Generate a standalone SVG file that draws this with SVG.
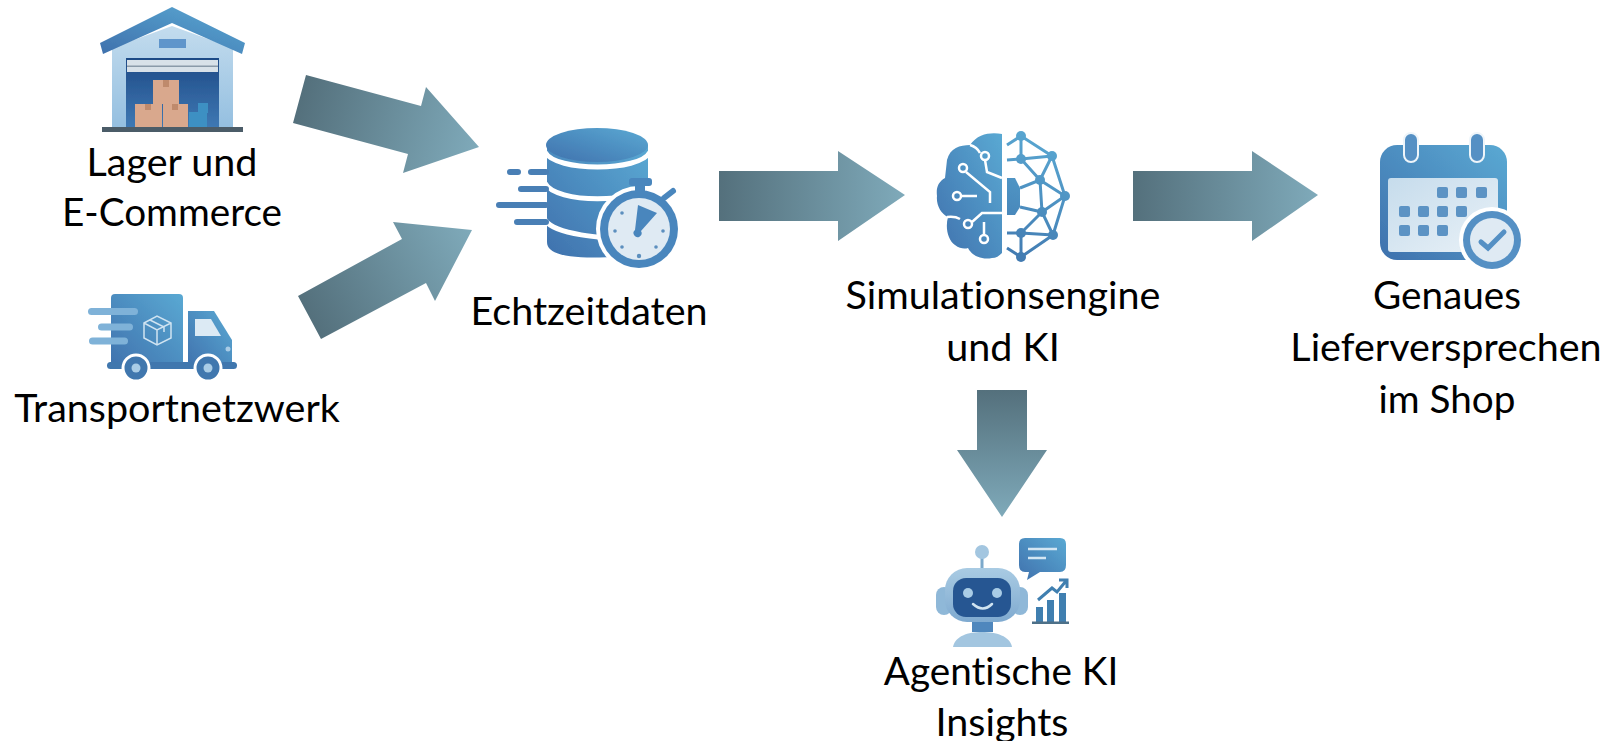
<svg xmlns="http://www.w3.org/2000/svg" width="1610" height="741" viewBox="0 0 1610 741">
<defs>
<linearGradient id="a1" gradientUnits="userSpaceOnUse" x1="300" y1="99" x2="479" y2="147"><stop offset="0" stop-color="#54707c"/><stop offset="1" stop-color="#7faaba"/></linearGradient>
<linearGradient id="a2" gradientUnits="userSpaceOnUse" x1="310" y1="318" x2="472" y2="230"><stop offset="0" stop-color="#54707c"/><stop offset="1" stop-color="#7faaba"/></linearGradient>
<linearGradient id="ah" x1="0" y1="0" x2="1" y2="0"><stop offset="0" stop-color="#54707c"/><stop offset="1" stop-color="#7faaba"/></linearGradient>
<linearGradient id="av" x1="0" y1="0" x2="0" y2="1"><stop offset="0" stop-color="#54707c"/><stop offset="1" stop-color="#7faaba"/></linearGradient>
<linearGradient id="b" x1="0" y1="1" x2="1" y2="0"><stop offset="0" stop-color="#3f71ad"/><stop offset="1" stop-color="#5aa9d3"/></linearGradient>
<linearGradient id="l" x1="0" y1="0" x2="1" y2="1"><stop offset="0" stop-color="#c6dcec"/><stop offset="1" stop-color="#e9f1f7"/></linearGradient>
<linearGradient id="wall" x1="0" y1="0" x2="0" y2="1"><stop offset="0" stop-color="#c3dcee"/><stop offset="1" stop-color="#94bfe0"/></linearGradient>
<linearGradient id="door" x1="0" y1="0" x2="0" y2="1"><stop offset="0" stop-color="#1e4a86"/><stop offset="1" stop-color="#3f79b4"/></linearGradient>
<linearGradient id="net" gradientUnits="userSpaceOnUse" x1="1010" y1="260" x2="1060" y2="135"><stop offset="0" stop-color="#4179b0"/><stop offset="1" stop-color="#5aa9d3"/></linearGradient>
<linearGradient id="hd" x1="0" y1="0" x2="0" y2="1"><stop offset="0" stop-color="#a9cbe3"/><stop offset="1" stop-color="#7faad0"/></linearGradient>
<filter id="soft" x="-5%" y="-5%" width="110%" height="110%"><feGaussianBlur stdDeviation="0.55"/></filter>
</defs>
<style>
text{font-family:"Lato","Carlito","Liberation Sans",sans-serif;font-size:39.5px;fill:#000;text-anchor:middle;font-variant-ligatures:none}
.icon{filter:url(#soft)}
.s{font-size:38.7px}
</style>
<rect width="1610" height="741" fill="#fff"/>
<g id="connectors">
<path fill="url(#a1)" d="M306 75 L421 106 L426 87 L479 147 L403 173 L408 154 L293 123Z"/>
<path fill="url(#a2)" d="M298 296 L402 239 L393 222 L472 230 L435 301 L426 283 L321 339Z"/>
<path fill="url(#ah)" d="M719 171 H838 V151 L905 195 L838 241 V221 H719Z"/>
<path fill="url(#ah)" d="M1133 171 H1252 V151 L1318 195 L1252 241 V221 H1133Z"/>
<path fill="url(#av)" d="M977 390 H1027 V450 H1047 L1002 517 L957 450 H977Z"/>
</g>
<g id="lager">
<g class="icon">
<path fill="url(#wall)" d="M112 48 L172 26 L233 48 V128 H112Z"/>
<path fill="url(#b)" d="M100 43 L172 7 L245 43 L242 54 L172 23 L103 54Z"/>
<rect x="159" y="39" width="27" height="9" fill="#5f95cb"/>
<rect x="126" y="58" width="93" height="70" fill="url(#door)"/>
<rect x="127" y="60" width="91" height="12" fill="#d8e1e8"/>
<rect x="127" y="65.500" width="91" height="1.500" fill="#8a9aa8"/>
<rect x="153" y="80" width="26" height="24" fill="#d9a88d"/>
<rect x="135" y="104" width="27" height="24" fill="#d9a88d"/>
<rect x="163" y="104" width="25" height="24" fill="#d9a88d"/>
<rect x="163" y="80" width="6" height="7" fill="#bf8a6c"/><rect x="145" y="104" width="6" height="6" fill="#bf8a6c"/><rect x="172" y="104" width="6" height="6" fill="#bf8a6c"/>
<rect x="189" y="112" width="18" height="15" fill="#3d90c3"/>
<rect x="198" y="103" width="10" height="10" fill="#3d90c3"/>
<rect x="102" y="127" width="141" height="5" fill="#4c5b68"/>
</g>
<text x="172" y="176">Lager und</text>
<text class="s" x="172" y="226">E-Commerce</text>
</g>
<g id="transport">
<g class="icon">
<rect x="111" y="294" width="72" height="75" rx="4" fill="url(#b)"/>
<path fill="url(#b)" d="M188 311 H214 L232 340 V369 H188Z"/>
<path fill="#dceaf4" d="M195 319 H211 L221 336 H195Z"/>
<circle cx="228" cy="349" r="2.500" fill="#a9cce6"/>
<rect x="107" y="362" width="130" height="7" rx="3.500" fill="#3f77ae"/>
<rect x="88" y="308" width="50" height="7" rx="3.500" fill="#7fb2d8"/>
<rect x="98" y="323.500" width="35" height="7" rx="3.500" fill="#7fb2d8"/>
<rect x="89" y="337.500" width="39" height="7" rx="3.500" fill="#7fb2d8"/>
<path fill="none" stroke="#cfe3f1" stroke-width="1.500" d="M144 323 L157 316 L171 323 V338 L157 345 L144 338Z M144 323 L157 330 L171 323 M157 330 V345 M150 320 L164 327 V332"/>
<circle cx="136" cy="368" r="13" fill="#3f77ae" stroke="#fff" stroke-width="3"/><circle cx="136" cy="368" r="4.500" fill="#a9cce6"/>
<circle cx="208" cy="368" r="13" fill="#3f77ae" stroke="#fff" stroke-width="3"/><circle cx="208" cy="368" r="4.500" fill="#a9cce6"/>
</g>
<text x="177" y="422">Transportnetzwerk</text>
</g>
<g id="echtzeit">
<g class="icon">
<path fill="url(#b)" d="M547 145 V242 C547 262 600 258 648 255 V145Z"/>
<ellipse cx="597" cy="145" rx="51" ry="17" fill="url(#b)"/>
<path fill="none" stroke="#fff" stroke-width="5" d="M545 152 C555 172 640 172 650 152 M545 183 C555 204 640 204 650 183 M545 220 C555 235 600 238 640 240"/>
<g stroke="#4a7fb5" stroke-width="6" stroke-linecap="round"><path d="M510 172 H518 M531 172 H546 M521 189 H546 M499 205 H546 M517 222 H546"/></g>
<circle cx="639" cy="229" r="43" fill="#fff"/>
<circle cx="639" cy="229" r="39" fill="#4a86bd"/>
<circle cx="639" cy="229" r="31" fill="#dfeaf3"/>
<rect x="629" y="178" width="23" height="8" rx="3" fill="#4a86bd"/><rect x="635" y="185" width="10" height="11" fill="#4a86bd"/>
<path d="M664 198 L673 191" stroke="#4a86bd" stroke-width="6" stroke-linecap="round"/>
<path fill="#4a86bd" d="M638 205 L657 213 L641 231 A4 4 0 1 1 635 230Z"/>
<g fill="#5c8fbe"><circle cx="622" cy="213" r="1.800"/><circle cx="615" cy="231" r="1.800"/><circle cx="622" cy="247" r="1.800"/><circle cx="639" cy="256" r="2.200"/><circle cx="656" cy="247" r="1.800"/><circle cx="663" cy="231" r="1.800"/></g>
</g>
<text x="589" y="325">Echtzeitdaten</text>
</g>
<g id="sim">
<g class="icon">
<path fill="url(#b)" d="M1002 134 C992 132 978 133 970 145 C960 145 950 148 947 160 L945 178 C938 182 936 188 937 196 C936 205 941 214 948 217 C945 228 948 240 955 245 C960 249 965 249 968 248 C972 256 982 260 992 258 C996 258 999 256 1002 253Z"/>
<g fill="none" stroke="#fff" stroke-width="2.500"><circle cx="985" cy="156" r="4"/><circle cx="963" cy="168" r="4"/><circle cx="957" cy="196" r="4"/><circle cx="968" cy="224" r="4"/><circle cx="984" cy="239" r="4"/><path d="M985 160 L987 172 L1002 178 M966 172 L990 192 V203 M962 196 H977 M972 222 L982 213 H1002 M984 235 V222 M970 145 Q977 147 980 153 M947 217 Q955 216 960 219"/></g>
<path fill="url(#net)" d="M1007 178 H1015 L1020 188 V207 L1015 215 H1007Z"/>
<g fill="none" stroke="url(#net)" stroke-width="3"><path d="M1007 145 L1021 136 L1052 156 L1065 196 L1053 235 L1021 257 L1007 248 M1021 136 V159 L1040 180 L1065 196 L1042 212 L1053 235 M1007 160 L1021 159 L1052 156 L1040 180 L1020 188 M1040 180 L1042 212 L1020 207 M1042 212 L1021 233 V257 M1007 233 H1021 L1053 235"/></g>
<g fill="url(#net)"><circle cx="1021" cy="136" r="5"/><circle cx="1052" cy="156" r="5"/><circle cx="1021" cy="159" r="5"/><circle cx="1040" cy="180" r="5"/><circle cx="1065" cy="196" r="5"/><circle cx="1042" cy="212" r="5"/><circle cx="1053" cy="235" r="5"/><circle cx="1021" cy="233" r="5"/><circle cx="1021" cy="257" r="5"/></g>
</g>
<text x="1003" y="309">Simulationsengine</text>
<text x="1003" y="361">und KI</text>
</g>
<g id="liefer">
<g class="icon">
<rect x="1380" y="145" width="127" height="115" rx="17" fill="url(#b)"/>
<rect x="1388" y="178" width="110" height="74" rx="3" fill="url(#l)"/>
<g stroke="#eef5fa" stroke-width="2" fill="#5590c4"><rect x="1404" y="133" width="14" height="29" rx="7"/><rect x="1470" y="133" width="14" height="29" rx="7"/></g>
<g fill="#5c93c4"><rect x="1437" y="187" width="11" height="11" rx="2"/><rect x="1456" y="187" width="11" height="11" rx="2"/><rect x="1476" y="187" width="11" height="11" rx="2"/><rect x="1399" y="206" width="11" height="11" rx="2"/><rect x="1418" y="206" width="11" height="11" rx="2"/><rect x="1437" y="206" width="11" height="11" rx="2"/><rect x="1456" y="206" width="11" height="11" rx="2"/><rect x="1399" y="225" width="11" height="11" rx="2"/><rect x="1418" y="225" width="11" height="11" rx="2"/><rect x="1437" y="225" width="11" height="11" rx="2"/></g>
<circle cx="1492" cy="240" r="33" fill="#fff"/>
<circle cx="1492" cy="240" r="29" fill="#5590c4"/>
<circle cx="1492" cy="240" r="22" fill="#dfeaf3"/>
<path fill="none" stroke="#5590c4" stroke-width="5" stroke-linecap="round" d="M1481 242 L1488 248 L1504 232"/>
</g>
<text class="s" x="1447" y="309">Genaues</text>
<text x="1446" y="361">Lieferversprechen</text>
<text class="s" x="1447" y="413">im Shop</text>
</g>
<g id="agent">
<g class="icon">
<path d="M982 558 V570" stroke="#7ba9cb" stroke-width="3"/>
<circle cx="982" cy="552" r="7" fill="#a3c6e0"/>
<rect x="936" y="587" width="16" height="28" rx="8" fill="#8fb8d8"/><rect x="1012" y="587" width="16" height="28" rx="8" fill="#8fb8d8"/>
<rect x="945" y="568" width="75" height="54" rx="22" fill="url(#hd)"/>
<rect x="953" y="578" width="58" height="39" rx="13" fill="#285792"/>
<circle cx="968" cy="593" r="5" fill="#a9cce6"/><circle cx="997" cy="593" r="5" fill="#a9cce6"/>
<path d="M973 604 Q983 613 992 604" fill="none" stroke="#cfe3f1" stroke-width="2.500" stroke-linecap="round"/>
<rect x="972" y="622" width="21" height="10" fill="#4f87bd"/>
<path d="M953 647 C955 636 968 632 982 632 C996 632 1010 636 1012 647Z" fill="#a3c6e0"/>
<path fill="url(#b)" d="M1025 538 H1060 Q1066 538 1066 544 V565 Q1066 572 1060 572 H1040 L1027 580 L1029 572 H1025 Q1019 572 1019 565 V544 Q1019 538 1025 538Z"/>
<path d="M1028 549 H1057 M1028 558 H1046" stroke="#d3e6f3" stroke-width="2.500"/>
<rect x="1036" y="607" width="7" height="15" fill="#3f7fb0"/><rect x="1047" y="600" width="7" height="22" fill="#3f7fb0"/><rect x="1059" y="593" width="7" height="29" fill="#3f7fb0"/>
<rect x="1032" y="621.500" width="37" height="2.500" fill="#4e6f88"/>
<path d="M1038 600 L1052 588 L1057 592 L1066 581 M1059 580 H1067 V588" fill="none" stroke="#3f7fb0" stroke-width="3"/>
</g>
<text class="s" x="1001" y="685">Agentische KI</text>
<text x="1002" y="736">Insights</text>
</g>
</svg>
